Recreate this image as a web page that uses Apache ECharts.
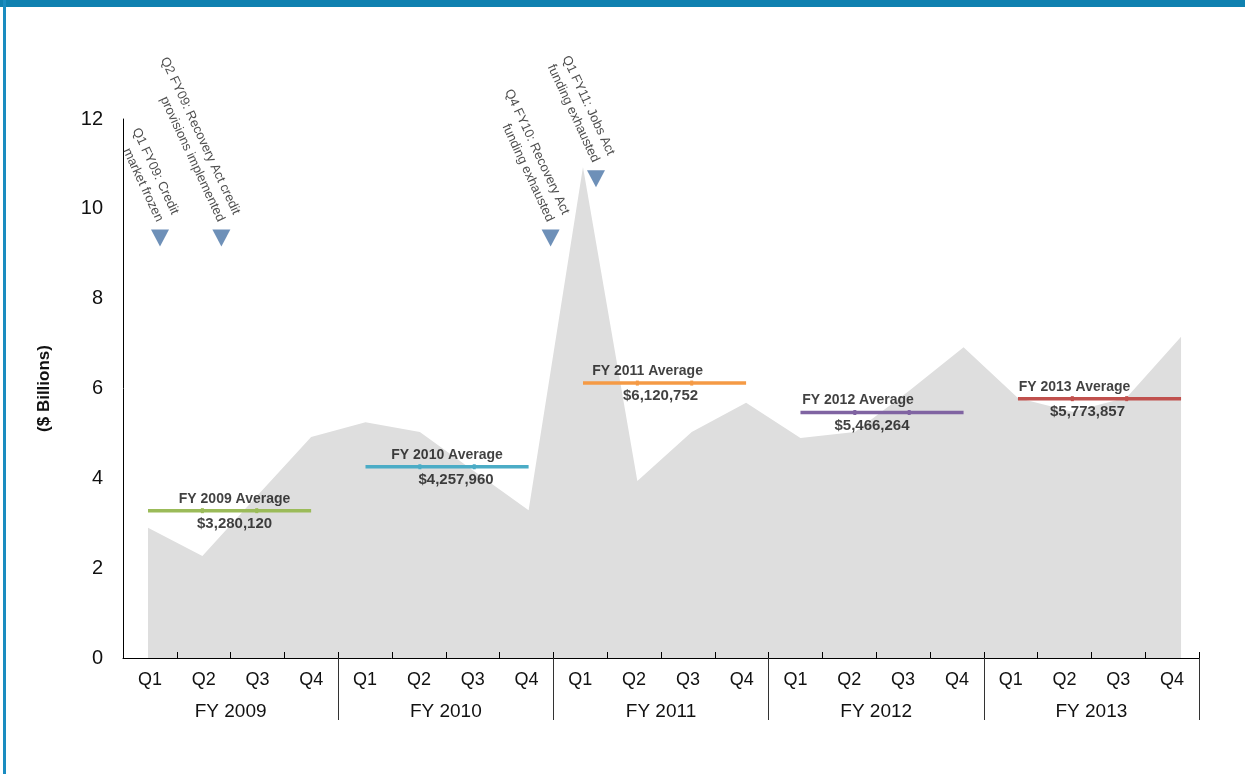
<!DOCTYPE html>
<html>
<head>
<meta charset="utf-8">
<script src="https://cdn.jsdelivr.net/npm/echarts@6/dist/echarts.min.js"></script>
<style>
  html, body { margin: 0; padding: 0; background: #fff; }
  #chart { position: absolute; left: 0; top: 0; width: 1245px; height: 774px; }
  .top-band { position: absolute; left: 0; top: 0; width: 1245px; height: 7px; background: #0f81b0; }
  .left-rule { position: absolute; left: 3px; top: 0; width: 3px; height: 774px; background: #1a8cc0; }
</style>
</head>
<body>
<div id="chart"></div>
<div class="top-band"></div>
<div class="left-rule"></div>
<script>
// Quarterly guaranteed loan volume, $ billions, FY 2009 – FY 2013
const fiscalYears = ['FY 2009', 'FY 2010', 'FY 2011', 'FY 2012', 'FY 2013'];
const quarterNames = ['Q1', 'Q2', 'Q3', 'Q4'];
const quarterlyBillions = [
  2.90, 2.27, 3.60, 4.92,
  5.25, 5.03, 4.16, 3.29,
  10.93, 3.94, 5.03, 5.68,
  4.90, 5.03, 5.95, 6.92,
  5.79, 5.48, 5.80, 7.15
];
// Yearly averages, $ thousands
const yearlyAverages = [3280120, 4257960, 6120752, 5466264, 5773857];
const yTickMin = 0, yTickMax = 12, yTickStep = 2;

// Policy events: quarter index, marker height ($B), note
const eventQuarters = [0, 1, 7, 8];
const eventHeights = [9.35, 9.35, 9.35, 10.67];
const eventNotes = [
  'Q1 FY09: Credit\nmarket frozen',
  'Q2 FY09: Recovery Act credit\nprovisions implemented',
  'Q4 FY10: Recovery Act\nfunding exhausted',
  'Q1 FY11: Jobs Act\nfunding exhausted'
];

// Styling
const averageColors = ['#9bbb59', '#4bacc6', '#f59a45', '#8064a2', '#c0504d'];
const titleNudge = [5, 0, -17, -24, -25];
const amountNudge = [5, 9, -4, -10, -12];
const markerNudge = [12, 19, 22, 13];
const sans = '"Liberation Sans", Arial, sans-serif';
const ink = '#111';

const quarterLabels = [];
fiscalYears.forEach(() => quarterNames.forEach(q => quarterLabels.push(q)));

const fmtMoney = n => '$' + n.toLocaleString('en-US');

const series = [];

// shaded quarterly volume
series.push({
  type: 'line',
  xAxisIndex: 2,
  data: quarterlyBillions.map((v, i) => [i, v]),
  symbol: 'none',
  lineStyle: { width: 0 },
  areaStyle: { color: '#dedede', opacity: 1 },
  silent: true,
  z: 1
});

// yearly average bars
yearlyAverages.forEach((avg, f) => {
  series.push({
    type: 'line',
    xAxisIndex: 2,
    data: quarterNames.map((q, k) => ({
      value: [f * 4 + k, avg / 1e6],
      symbol: (k === 0 || k === 3) ? 'none' : 'rect'
    })),
    symbolSize: [3, 5],
    itemStyle: { color: averageColors[f] },
    lineStyle: { color: averageColors[f], width: 3.5 },
    silent: true,
    z: 4
  });
});

// average captions
series.push({
  type: 'scatter',
  xAxisIndex: 2,
  symbolSize: 1,
  itemStyle: { color: 'rgba(0,0,0,0)' },
  silent: true,
  z: 5,
  data: yearlyAverages.map((avg, f) => ({
    value: [f * 4 + 1.5, avg / 1e6],
    label: { offset: [titleNudge[f], -12] }
  })),
  label: {
    show: true, position: 'inside', align: 'center', verticalAlign: 'middle',
    formatter: p => fiscalYears[p.dataIndex] + ' Average',
    fontFamily: sans, fontWeight: 'bold', fontSize: 14, color: ink
  }
});
series.push({
  type: 'scatter',
  xAxisIndex: 2,
  symbolSize: 1,
  itemStyle: { color: 'rgba(0,0,0,0)' },
  silent: true,
  z: 5,
  data: yearlyAverages.map((avg, f) => ({
    value: [f * 4 + 1.5, avg / 1e6],
    label: { offset: [amountNudge[f], 13] }
  })),
  label: {
    show: true, position: 'inside', align: 'center', verticalAlign: 'middle',
    formatter: p => fmtMoney(yearlyAverages[p.dataIndex]),
    fontFamily: sans, fontWeight: 'bold', fontSize: 15, color: ink
  }
});

// event markers with slanted notes
series.push({
  type: 'scatter',
  xAxisIndex: 2,
  symbol: 'path://M0,0L20,0L10,18Z',
  symbolSize: [18, 17],
  itemStyle: { color: '#4a74a6' },
  silent: true,
  z: 6,
  data: eventQuarters.map((q, i) => ({
    value: [q, eventHeights[i]],
    symbolOffset: [markerNudge[i], 0]
  })),
  label: {
    show: true,
    position: [1, -5],
    align: 'right',
    verticalAlign: 'bottom',
    rotate: -65,
    formatter: p => eventNotes[p.dataIndex],
    fontFamily: sans, fontSize: 13, lineHeight: 17, color: '#222'
  }
});

const chart = echarts.init(document.getElementById('chart'), null, { renderer: 'canvas' });
chart.setOption({
  animation: false,
  backgroundColor: 'transparent',
  grid: { left: 123, right: 46, top: 119, bottom: 116, containLabel: false },
  xAxis: [
    {
      type: 'category',
      data: quarterLabels,
      position: 'bottom',
      boundaryGap: true,
      z: 10,
      axisLine: { show: true, onZero: false, lineStyle: { color: '#000', width: 1 } },
      axisTick: { show: true, inside: true, length: 6, lineStyle: { color: '#000' } },
      axisLabel: { interval: 0, margin: 13, fontSize: 18, fontFamily: sans, color: ink },
      splitLine: { show: false }
    },
    {
      type: 'category',
      data: fiscalYears,
      position: 'bottom',
      boundaryGap: true,
      z: 10,
      axisLine: { show: false, onZero: false },
      axisTick: { show: true, length: 62, interval: (i) => i > 0, lineStyle: { color: '#333' } },
      axisLabel: { interval: 0, margin: 44, fontSize: 19, fontFamily: sans, color: ink },
      splitLine: { show: false }
    },
    {
      type: 'value',
      min: -0.46,
      max: 19.33,
      show: false
    }
  ],
  yAxis: {
    type: 'value',
    min: yTickMin,
    max: yTickMax,
    interval: yTickStep,
    axisLine: { show: true, onZero: false, lineStyle: { color: '#000', width: 1 } },
    axisTick: { show: false },
    splitLine: { show: false },
    axisLabel: { margin: 20, fontSize: 20, fontFamily: sans, color: ink },
    name: '($ Billions)',
    nameLocation: 'middle',
    nameRotate: 90,
    nameGap: 70,
    nameTextStyle: { fontFamily: sans, fontWeight: 'bold', fontSize: 17, color: ink }
  },
  series: series
});
</script>
</body>
</html>
